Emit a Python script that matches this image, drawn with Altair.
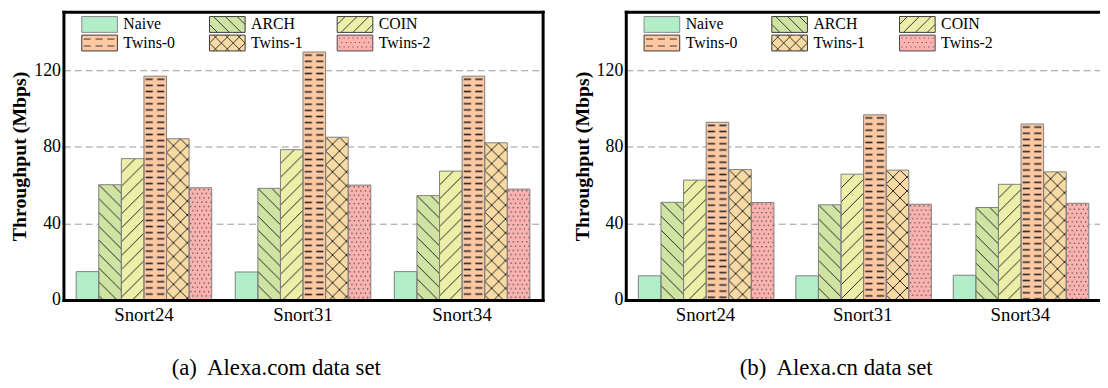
import base64
import altair as alt
import pandas as pd

# ---------------- data ----------------
benchmarks = ["Snort24", "Snort31", "Snort34"]
methods = ["Naive", "ARCH", "COIN", "Twins-0", "Twins-1", "Twins-2"]

com_naive = [14.8, 14.6, 14.8]
com_arch = [60.2, 58.3, 54.5]
com_coin = [73.8, 78.5, 67.3]
com_twins0 = [116.9, 129.5, 116.9]
com_twins1 = [84.2, 85.0, 82.1]
com_twins2 = [58.6, 60.0, 57.9]

cn_naive = [12.6, 12.6, 12.9]
cn_arch = [51.0, 49.7, 48.3]
cn_coin = [62.6, 65.7, 60.4]
cn_twins0 = [92.8, 96.7, 91.9]
cn_twins1 = [68.1, 67.8, 66.9]
cn_twins2 = [50.9, 50.0, 50.5]

y_ticks = [0, 40, 80, 120]
captions = ["(a)\u00a0 Alexa.com data set", "(b)\u00a0 Alexa.cn data set"]

# ---------------- style ----------------
colors = ["#b2edca", "#cfe4a2", "#ecefa8", "#fdc8a2", "#f8dba4", "#fcb3b0"]
swatch_strokes = ["#8a8a8a", "#3a3a3a", "#3a3a3a", "#3a3a3a", "#3a3a3a", "#4a4a4a"]
SERIF = "Liberation Serif, Times New Roman, Times, DejaVu Serif, serif"


def svg_url(pw, ph, inner):
    svg = ("<svg xmlns='http://www.w3.org/2000/svg'><defs>"
           f"<pattern id='p' patternUnits='userSpaceOnUse' width='{pw}' height='{ph}'>{inner}</pattern>"
           "</defs><rect width='100%' height='100%' fill='url(#p)'/></svg>")
    return "data:image/svg+xml;base64," + base64.b64encode(svg.encode()).decode()


LINE = "stroke='#262626' stroke-width='1' fill='none'"
back = f"<path d='M0,0L14,14M-1,13L1,15M13,-1L15,1' {LINE}/>"
fwd = f"<path d='M0,14L14,0M-1,1L1,-1M13,15L15,13' {LINE}/>"
patterns = {
    "ARCH": svg_url(14, 14, back),
    "COIN": svg_url(14, 14, fwd),
    "Twins-0": svg_url(11.6, 6.2, "<path d='M1.7,3.1H9' stroke='#2a2a2a' stroke-width='1.6'/>"),
    "Twins-1": svg_url(14, 14, back + fwd),
    "Twins-2": svg_url(9, 8.6, "".join(
        f"<rect x='{x}' y='{y}' width='1.3' height='1.3' fill='#4a4a4a'/>"
        for x, y in [(1, 1), (5.5, 1), (3.25, 5.3), (7.75, 5.3)])),
}

# legend swatch shapes (custom symbol paths, 36x16 px, 8 px per unit)
SW, SH, U = 36.0, 16.0, 8.0


def P(x, y):
    return f"{(x - SW / 2) / U:.3f},{(y - SH / 2) / U:.3f}"


def swatch(kind):
    d = f"M{P(0, 0)}L{P(SW, 0)}L{P(SW, SH)}L{P(0, SH)}Z"
    if kind in ("back", "cross"):
        for c in range(-8, 36, 12):
            x0, x1 = max(0.0, c), min(SW, SH + c)
            if x1 > x0:
                d += f"M{P(x0, x0 - c)}L{P(x1, x1 - c)}"
    if kind in ("fwd", "cross"):
        for c in range(8, 56, 12):
            x0, x1 = max(0.0, c - SH), min(SW, c)
            if x1 > x0:
                d += f"M{P(x0, c - x0)}L{P(x1, c - x1)}"
    if kind == "dash":
        for y in (4.0, 11.0):
            for x in (2.0, 14.0, 26.0):
                d += f"M{P(x, y)}L{P(x + 7, y)}"
    if kind == "dots":
        for j, y in enumerate((3.0, 7.5, 12.0)):
            x = 2.0 if j % 2 == 0 else 4.25
            while x < SW - 1:
                d += f"M{P(x, y)}L{P(x + 1, y)}"
                x += 4.5
    return d


shapes = [swatch(k) for k in ["plain", "back", "fwd", "dash", "cross", "dots"]]


def frame(values):
    rows = []
    for m, vals in zip(methods, values):
        for b, v in zip(benchmarks, vals):
            rows.append({"benchmark": b, "method": m, "value": v, "url": patterns.get(m, "")})
    return pd.DataFrame(rows)


df_com = frame([com_naive, com_arch, com_coin, com_twins0, com_twins1, com_twins2])
df_cn = frame([cn_naive, cn_arch, cn_coin, cn_twins0, cn_twins1, cn_twins2])


def panel(df, caption, width, right_border):
    xs = alt.Scale(domain=benchmarks, paddingInner=0.148, paddingOuter=0.08)
    ys = alt.Scale(domain=[0, 150.5], nice=False, zero=True)
    xo = alt.XOffset("method:N", sort=methods, scale=alt.Scale(domain=methods))
    fill_scale = alt.Scale(domain=methods, range=colors)
    shape_scale = alt.Scale(domain=methods, range=shapes)
    stroke_scale = alt.Scale(domain=methods, range=swatch_strokes)
    legend = alt.Legend(
        orient="none", legendX=28, legendY=4, columns=3, direction="horizontal",
        title=None, padding=0,
        labelFont=SERIF, labelFontSize=16, labelColor="black", labelOffset=15.5,
        symbolSize=256, symbolStrokeWidth=1,
        symbolOpacity=1, columnPadding=32, rowPadding=-3, labelLimit=0,
    )
    frame_axis = dict(domain=True, domainColor="black", domainWidth=3, domainCap="square",
                      ticks=False, labels=False, grid=False, title=None, zindex=1)

    base = alt.Chart(df)
    x_main = alt.X("benchmark:N", sort=benchmarks, scale=xs, axis=alt.Axis(
        orient="bottom", labelAngle=0, labelFont=SERIF, labelFontSize=19, labelColor="black",
        ticks=False, domain=True, domainColor="black", domainWidth=3, domainCap="square",
        labelPadding=6, title=None, zindex=1))
    y_main = alt.Y("value:Q", scale=ys, axis=alt.Axis(
        orient="left", values=y_ticks, title="Throughput (Mbps)", titleFont=SERIF,
        titleFontSize=20, titleFontWeight="bold", titleColor="black", titlePadding=4,
        labelFont=SERIF, labelFontSize=18, labelColor="black", labelPadding=3, ticks=False,
        grid=True, gridDash=[7, 4], gridColor="#9a9a9a", gridWidth=1,
        domain=True, domainColor="black", domainWidth=3, domainCap="square"))

    bars = base.mark_bar().encode(
        x=x_main, xOffset=xo, y=y_main,
        fill=alt.Fill("method:N", scale=fill_scale, legend=legend),
    )
    hatch = base.transform_filter("datum.url != ''").mark_image(aspect=False).encode(
        x=alt.X("benchmark:N", sort=benchmarks, scale=xs, axis=None),
        xOffset=xo,
        y=alt.Y("value:Q", scale=ys, axis=None),
        y2=alt.datum(0),
        url="url:N",
    )
    edges = base.mark_bar(fill="transparent", stroke="#7f7f7f", strokeWidth=1).encode(
        x=alt.X("benchmark:N", sort=benchmarks, scale=xs, axis=None),
        xOffset=xo,
        y=alt.Y("value:Q", scale=ys, axis=None),
    )
    keys = base.transform_filter("false").mark_point(
        filled=True, opacity=1, size=256, strokeWidth=1).encode(
        x=alt.X("benchmark:N", sort=benchmarks, scale=xs,
                axis=alt.Axis(orient="top", **frame_axis)),
        y=alt.Y("value:Q", scale=ys,
                axis=alt.Axis(orient="right", **frame_axis) if right_border else None),
        fill=alt.Fill("method:N", scale=fill_scale, legend=legend),
        shape=alt.Shape("method:N", scale=shape_scale, legend=legend),
        stroke=alt.Stroke("method:N", scale=stroke_scale, legend=legend),
    )
    return alt.layer(bars, hatch, edges, keys).resolve_axis(
        x="independent", y="independent"
    ).properties(
        width=width, height=291,
        title=alt.TitleParams(text=caption, orient="bottom", anchor="middle", frame="bounds",
                              font=SERIF, fontSize=23, fontWeight="normal", color="black",
                              offset=33),
    )


left = panel(df_com, captions[0], 484, True)
right = panel(df_cn, captions[1], 479, False)

chart = alt.hconcat(left, right, spacing=30).resolve_scale(
    fill="independent", shape="independent", stroke="independent"
).properties(
    padding={"left": 2, "top": 2, "right": 0, "bottom": 0}
).configure_view(stroke=None)

chart.save("out.html", embed_options={"renderer": "svg", "actions": False})
